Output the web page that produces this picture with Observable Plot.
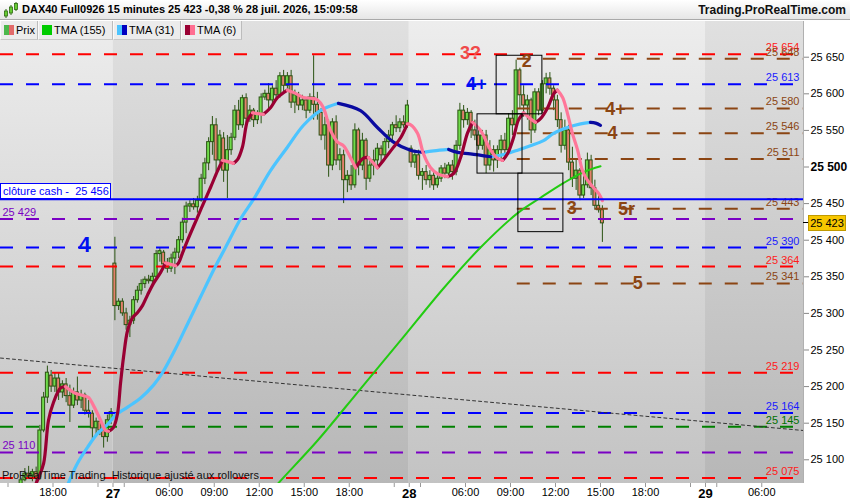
<!DOCTYPE html>
<html><head><meta charset="utf-8">
<script src="https://cdn.jsdelivr.net/npm/d3@7"></script>
<script src="https://cdn.jsdelivr.net/npm/@observablehq/plot@0.6"></script>
<style>
body{margin:0;width:850px;height:500px;overflow:hidden;background:#fff;font-family:"Liberation Sans",Arial,sans-serif;}
#header{position:absolute;left:0;top:0;width:850px;height:20px;box-sizing:border-box;border-bottom:1px solid #a9a9a9;background:linear-gradient(#ffffff,#e6e6e6);}
#title{position:absolute;left:22px;top:3px;font-size:11px;font-weight:bold;color:#000;white-space:nowrap;}
#site{position:absolute;right:4px;top:3px;font-size:12px;font-weight:bold;color:#111;white-space:nowrap;}
#chart{position:absolute;left:0;top:20px;width:850px;height:480px;}
#chart svg{position:absolute;left:0;top:0;}
.tab{position:absolute;top:1px;height:19px;box-sizing:border-box;background:#ececec;border-right:1px solid #bcbcbc;border-bottom:1px solid #c8c8c8;border-left:1px solid #fafafa;font-size:11px;line-height:18px;color:#000;white-space:nowrap;padding-left:15px;}
.sw{position:absolute;left:3px;top:4px;width:10px;height:10px;}
.ov{position:absolute;white-space:nowrap;}
</style></head>
<body>
<div id="header">
  <svg width="16" height="18" style="position:absolute;left:3px;top:1px">
    <line x1="3" y1="8" x2="3" y2="17" stroke="#2d6a10"/><rect x="1.5" y="10" width="3" height="5" fill="#66cc33" stroke="#2d6a10" stroke-width="0.8"/>
    <line x1="8" y1="4" x2="8" y2="14" stroke="#2d6a10"/><rect x="6.5" y="6" width="3" height="6" fill="#66cc33" stroke="#2d6a10" stroke-width="0.8"/>
    <line x1="13" y1="1" x2="13" y2="10" stroke="#2d6a10"/><rect x="11.5" y="2.5" width="3" height="6" fill="#66cc33" stroke="#2d6a10" stroke-width="0.8"/>
  </svg>
  <div id="title">DAX40 Full0926 15 minutes 25 423 -0,38 % 28 juil. 2026, 15:09:58</div>
  <div id="site">Trading.ProRealTime.com</div>
</div>
<div id="chart"></div>
<script>
// ---------- data ----------
const openP = [25045,25049,25044,25050,25055,25062,25072,25081,25077,25083,
25076,25140,25185,25215,25200,25211,25192,25203,25187,25174,
25192,25181,25188,25167,25163,25143,25152,25140,25131,25154,
25368,25310,25316,25300,25284,25290,25318,25331,25340,25346,
25344,25350,25381,25383,25367,25361,25375,25383,25400,25424,
25446,25449,25445,25454,25484,25505,25534,25557,25509,25539,
25495,25523,25540,25577,25557,25594,25566,25577,25564,25572,
25595,25600,25591,25607,25598,25624,25611,25624,25588,25598,
25584,25591,25577,25595,25585,25574,25543,25557,25502,25561,
25509,25516,25482,25488,25475,25550,25502,25536,25484,25502,
25509,25525,25516,25534,25543,25557,25553,25561,25557,25525,
25506,25516,25488,25493,25482,25488,25475,25484,25498,25491,
25502,25493,25529,25577,25564,25574,25550,25543,25529,25543,
25502,25523,25509,25523,25536,25523,25566,25557,25632,25598,
25584,25591,25550,25602,25577,25613,25621,25607,25591,25564,
25529,25550,25506,25484,25495,25461,25475,25509,25471,25447,
25441];
const highP = [25052,25055,25053,25058,25066,25075,25088,25091,25087,25090,
25147,25192,25228,25222,25218,25219,25208,25211,25202,25198,
25213,25195,25191,25181,25167,25157,25157,25147,25161,25170,
25404,25320,25320,25307,25296,25323,25337,25346,25350,25352,
25355,25386,25389,25386,25375,25381,25389,25405,25430,25452,
25454,25457,25460,25490,25512,25540,25569,25566,25550,25547,
25543,25546,25584,25591,25598,25600,25584,25580,25577,25600,
25605,25614,25611,25618,25629,25632,25629,25632,25605,25602,
25598,25594,25600,25652,25602,25580,25568,25564,25566,25570,
25525,25523,25495,25502,25559,25553,25546,25539,25509,25523,
25532,25529,25539,25550,25561,25570,25566,25570,25591,25529,
25523,25523,25498,25502,25495,25493,25488,25502,25505,25506,
25509,25536,25587,25584,25580,25577,25564,25553,25550,25550,
25536,25529,25529,25543,25546,25573,25577,25646,25635,25611,
25598,25594,25607,25607,25618,25628,25629,25611,25598,25574,
25564,25557,25527,25509,25498,25488,25519,25516,25482,25461,
25447];
const lowP = [25038,25042,25040,25045,25050,25058,25070,25075,25070,25069,
25072,25137,25177,25192,25192,25181,25184,25178,25151,25170,
25174,25170,25161,25157,25126,25131,25133,25116,25124,25148,
25290,25304,25296,25277,25267,25285,25314,25325,25334,25340,
25338,25348,25370,25361,25355,25356,25353,25375,25396,25409,
25438,25441,25437,25452,25476,25495,25516,25493,25505,25479,
25457,25516,25536,25550,25553,25554,25561,25554,25558,25559,
25591,25577,25585,25591,25594,25602,25607,25580,25573,25577,
25577,25566,25573,25564,25564,25536,25523,25486,25495,25502,
25495,25450,25465,25468,25471,25488,25495,25468,25479,25488,
25502,25506,25512,25525,25536,25547,25547,25553,25553,25499,
25498,25482,25468,25475,25471,25468,25471,25479,25484,25484,
25482,25488,25523,25553,25557,25539,25536,25523,25523,25491,
25495,25493,25498,25509,25512,25520,25543,25553,25580,25568,
25564,25532,25546,25570,25573,25600,25598,25577,25554,25519,
25523,25495,25472,25468,25454,25457,25471,25461,25441,25437,
25397];
const closeP = [25049,25044,25050,25055,25062,25072,25081,25077,25083,25076,
25140,25185,25219,25200,25211,25192,25203,25187,25174,25192,
25181,25188,25167,25163,25143,25152,25140,25131,25154,25165,
25310,25316,25300,25284,25290,25318,25331,25340,25346,25344,
25350,25381,25385,25367,25361,25375,25383,25400,25424,25446,
25449,25445,25454,25484,25505,25534,25557,25509,25543,25495,
25523,25540,25577,25557,25594,25566,25577,25564,25572,25595,
25600,25591,25607,25598,25624,25611,25624,25588,25598,25584,
25591,25577,25595,25585,25574,25543,25557,25502,25561,25509,
25516,25482,25488,25475,25550,25502,25536,25484,25502,25509,
25525,25516,25534,25543,25557,25553,25561,25557,25584,25506,
25516,25488,25493,25482,25488,25475,25484,25498,25491,25502,
25493,25529,25577,25564,25574,25550,25543,25529,25543,25502,
25523,25509,25523,25536,25523,25566,25557,25632,25598,25584,
25591,25550,25602,25577,25613,25621,25607,25591,25564,25529,
25550,25506,25484,25495,25461,25475,25509,25471,25447,25441,
25423];

// moving averages (bar position, price)
const tma6Bar = [7.5,9.6,11.0,12.3,13.6,15.5,16.8,19.0,21.4,23.0,24.3,26.2,27.5,28.3,29.6,30.7,31.5,32.3,33.4,34.7,36.0,37.4,38.7,40.3,42.2,43.5,44.8,46.2,47.0,48.0,49.4,52.0,53.6,55.5,57.4,58.7,60.3,61.6,62.7,64.0,65.4,66.7,68.0,69.6,71.5,73.4,76.0,77.6,80.3,82.2,83.9,85.6,87.5,89.4,91.0,92.8,94.2,96.3,97.6,99.0,100.0,101.6,104.3,106.2,108.0,108.8,110.7,112.3,114.2,116.0,117.6,118.7,120.3,122.2,124.0,125.4,127.5,130.2,132.0,133.4,134.7,136.3,137.6,139.0,140.8,142.2,143.5,145.4,147.0,148.0,149.4,150.7,152.0,153.4,154.7,156.0,157.6,159.0,160.0];
const tma6Val = [25051,25075,25095,25154,25178,25198,25200,25192,25188,25185,25174,25154,25140,25139,25144,25163,25204,25240,25277,25294,25301,25311,25325,25341,25356,25369,25367,25365,25369,25382,25400,25431,25450,25472,25495,25509,25507,25505,25510,25527,25564,25574,25573,25572,25581,25595,25605,25602,25595,25594,25592,25581,25550,25534,25529,25513,25499,25512,25513,25505,25499,25509,25527,25540,25559,25558,25546,25518,25499,25491,25488,25487,25491,25513,25546,25561,25550,25523,25512,25509,25518,25540,25564,25574,25566,25561,25566,25581,25600,25605,25595,25573,25546,25523,25495,25482,25472,25464,25454];
const tma31Bar = [16.0,17.6,20.0,22.7,25.4,28.0,30.2,33.4,36.8,40.3,42.7,46.2,49.6,52.8,56.8,59.5,63.5,67.0,71.5,76.0,80.3,84.8,89.6,95.5,100.0,104.3,108.8,112.3,115.0,119.0,121.4,124.8,130.2,132.8,137.4,140.8,144.3,147.0,150.7,154.2,156.8,158.2,159.5];
const tma31Val = [25045,25068,25095,25117,25136,25148,25161,25172,25184,25202,25219,25252,25288,25322,25364,25390,25429,25456,25495,25527,25557,25577,25587,25577,25554,25534,25523,25520,25522,25524,25520,25518,25514,25516,25523,25529,25536,25546,25554,25559,25561,25560,25557];
const tma155Bar = [71.5,73.6,84.0,95.5,106.2,117.6,127.5,137.4,143.5,149.6,155.0,159.5];
const tma155Val = [25055,25068,25126,25197,25263,25334,25390,25437,25458,25478,25493,25501];

// trend line (dotted)
const trendBar = [-0.5, 213.6];
const trendVal = [25239, 25140];

// horizontal levels
const redLevels = [25654, 25364, 25219, 25075];
const blueLevels = [25613, 25390, 25164];
const brownLevels = [25648, 25580, 25546, 25511, 25443, 25341];
const purpleLevels = [25429, 25110];
const greenLevels = [25145];
const cashClose = 25456;
const brownFromBar = 137.3;
const lastPrice = 25423;

// boxes
const boxFrom = [131.8, 126.7, 137.6];
const boxTo = [144.0, 138.7, 149.6];
const boxHigh = [25652, 25572, 25491];
const boxLow = [25572, 25491, 25411];

// annotations
const noteText = ["3?", "2", "4+", "4+", "4", "3", "5r", "4", "5"];
const noteBar = [124.8, 139.8, 126.4, 163.5, 162.7, 151.8, 166.4, 21.9, 169.4];
const notePrice = [25655, 25644, 25613, 25579, 25546, 25443, 25442, 25393, 25341];
const noteKind = ["red", "brown", "blue", "brown", "brown", "brown", "brown", "blue", "brown"];

// sessions
const dayFrom = [-0.5, 29.5, 108.5, 187.5];
const dayTo = [29.5, 108.5, 187.5, 213.63];
const dayShade = ["light", "dark", "light", "dark"];

// axis ticks
const xTickBars = [13.5, 29.5, 44.5, 56.5, 68.5, 80.5, 92.5, 108.5, 123.5, 135.5, 147.5, 159.5, 171.5, 187.5, 202.5];
const xTickLabels = ["18:00", "27", "06:00", "09:00", "12:00", "15:00", "18:00", "28", "06:00", "09:00", "12:00", "15:00", "18:00", "29", "06:00"];
const xMinorBars = [1.5, 25.5, 32.5, 104.5, 111.5, 183.5, 190.5];
const yTicks = [25100, 25150, 25200, 25250, 25300, 25350, 25400, 25450, 25500, 25550, 25600, 25650];

// ---------- build ----------
const fr = d3.formatLocale({decimal: ",", thousands: " ", grouping: [3], currency: ["", " €"]}).format(",d");
const COL = {red: "#ff0000", blue: "#0000ff", brown: "#8b4513", purple: "#7a00c4", green: "#008000"};
const LBL = {red: "#ff1a1a", blue: "#1a1aff", brown: "#8b4513", green: "#007000"};
const NOTE = {red: "#f04a4a", blue: "#0010f0", brown: "#8b4513"};
const wick = "#2a5212";

const candles = closeP.map((c, i) => ({i, o: openP[i], h: highP[i], l: lowP[i], c}));
const upC = candles.filter(d => d.c >= d.o), dnC = candles.filter(d => d.c < d.o);

function runs(bars, vals) {
  const out = []; let run = 0, dir = null;
  for (let i = 1; i < bars.length; i++) {
    const d = vals[i] >= vals[i - 1] ? "up" : "down";
    if (d !== dir) { run++; dir = d; out.push({run, dir, x: bars[i - 1], y: vals[i - 1]}); }
    out.push({run, dir, x: bars[i], y: vals[i]});
  }
  return out;
}
const r6 = runs(tma6Bar, tma6Val), r31 = runs(tma31Bar, tma31Val);
const pts = (b, v) => b.map((x, i) => ({x, y: v[i]}));

const xMax = 213.63;
const days = dayFrom.map((f, i) => ({f, t: dayTo[i], s: dayShade[i]}));
const boxes = boxFrom.map((f, i) => ({f, t: boxTo[i], hi: boxHigh[i], lo: boxLow[i]}));
const notes = noteText.map((t, i) => ({t, x: noteBar[i], y: notePrice[i], k: noteKind[i]}));
const tickLabel = new Map(xTickBars.map((b, i) => [b, xTickLabels[i]]));

const defsMark = () => {
  const g = d3.create("svg:defs");
  const mk = (id, top, bottom) => {
    const lg = g.append("linearGradient").attr("id", id).attr("x1", 0).attr("y1", 0).attr("x2", 0).attr("y2", 1);
    lg.append("stop").attr("offset", "0%").attr("stop-color", top);
    lg.append("stop").attr("offset", "100%").attr("stop-color", bottom);
  };
  mk("bgLight", "#ededed", "#c3c3c3");
  mk("bgDark", "#e0e0e0", "#b7b7b7");
  return g.node();
};

function levelMarks(vals, kind, from, side) {
  const m = [Plot.ruleY(vals, {y: d => d, x1: from === undefined ? undefined : from, x2: from === undefined ? undefined : xMax,
    stroke: COL[kind], strokeWidth: 2, strokeDasharray: "13,13"})];
  if (side === "right") m.push(Plot.text(vals, {y: d => d, text: d => fr(d), frameAnchor: "right", textAnchor: "end",
    lineAnchor: "bottom", dx: -4, dy: -3, fill: LBL[kind], fontSize: 11}));
  if (side === "left") m.push(Plot.text(vals, {y: d => d, text: d => fr(d), frameAnchor: "left", textAnchor: "start",
    lineAnchor: "bottom", dx: 2, dy: -3, fill: COL[kind], fontSize: 11}));
  return m;
}

const svg = Plot.plot({
  width: 850, height: 480,
  marginTop: 1, marginBottom: 17, marginLeft: 0, marginRight: 47,
  x: {domain: [-0.5, xMax]},
  y: {domain: [25067.6, 25698.8]},
  style: {fontFamily: "'Liberation Sans', Arial, sans-serif", fontSize: "11px", color: "#000", background: "transparent", overflow: "visible"},
  marks: [
    defsMark,
    Plot.rect(days.filter(d => d.s === "light"), {x1: "f", x2: "t", fill: "url(#bgLight)"}),
    Plot.rect(days.filter(d => d.s === "dark"), {x1: "f", x2: "t", fill: "url(#bgDark)"}),
    Plot.ruleX(candles, {x: "i", y1: "l", y2: "h", stroke: wick, strokeWidth: 1, clip: true}),
    Plot.rect(upC, {x1: d => d.i - 0.4, x2: d => d.i + 0.4, y1: "o", y2: "c", fill: "#6fdc4a", stroke: wick, strokeWidth: 1, clip: true}),
    Plot.rect(dnC, {x1: d => d.i - 0.4, x2: d => d.i + 0.4, y1: "o", y2: "c", fill: "#e4806c", stroke: wick, strokeWidth: 1, clip: true}),
    ...levelMarks(redLevels, "red", undefined, "right"),
    ...levelMarks(blueLevels, "blue", undefined, "right"),
    ...levelMarks(greenLevels, "green", undefined, "right"),
    ...levelMarks(purpleLevels, "purple", undefined, "left"),
    ...levelMarks(brownLevels, "brown", brownFromBar, "right"),
    Plot.line(pts(trendBar, trendVal), {x: "x", y: "y", stroke: "#333", strokeWidth: 1, strokeDasharray: "3,3", clip: true}),
    Plot.line(pts(tma155Bar, tma155Val), {x: "x", y: "y", stroke: "#22cc11", strokeWidth: 2, curve: "catmull-rom", clip: true}),
    Plot.line(r31.filter(d => d.dir === "up"), {x: "x", y: "y", z: "run", stroke: "#4cc4ff", strokeWidth: 3.2, curve: "catmull-rom", strokeLinecap: "round", clip: true}),
    Plot.line(r31.filter(d => d.dir === "down"), {x: "x", y: "y", z: "run", stroke: "#0a0aa0", strokeWidth: 3.2, curve: "catmull-rom", strokeLinecap: "round", clip: true}),
    Plot.line(r6.filter(d => d.dir === "up"), {x: "x", y: "y", z: "run", stroke: "#990033", strokeWidth: 3.2, curve: "catmull-rom", strokeLinecap: "round", clip: true}),
    Plot.line(r6.filter(d => d.dir === "down"), {x: "x", y: "y", z: "run", stroke: "#ff7799", strokeWidth: 3.2, curve: "catmull-rom", strokeLinecap: "round", clip: true}),
    Plot.ruleY([cashClose], {y: d => d, stroke: "#0000ff", strokeWidth: 2}),
    Plot.rect(boxes, {x1: "f", x2: "t", y1: "lo", y2: "hi", fill: "none", stroke: "#000", strokeWidth: 1}),
    ...["red", "blue", "brown"].map(k => Plot.text(notes.filter(n => n.k === k), {x: "x", y: "y", text: "t", fill: NOTE[k],
      fontWeight: "bold", fontSize: d => d.x < 50 ? 22 : 18, textAnchor: "middle", lineAnchor: "middle"})),
    Plot.axisY({anchor: "right", ticks: yTicks, tickFormat: fr, tickSize: 5, tickPadding: 2, fontSize: 11, stroke: "#888", label: null}),
    Plot.axisX({anchor: "bottom", ticks: xTickBars, tickFormat: d => tickLabel.get(d), tickSize: 4, tickPadding: 1, fontSize: 11, stroke: "#999", label: null}),
    Plot.axisX({anchor: "bottom", ticks: xMinorBars, tickFormat: () => "", tickSize: 4, stroke: "#999", label: null})
  ]
});

const chart = document.getElementById("chart");
chart.appendChild(svg);

d3.select(svg).selectAll("text").each(function () {
  const t = this.textContent;
  if (t === "27" || t === "28" || t === "29") d3.select(this).attr("font-weight", "bold").attr("font-size", 13);
  if (t === "25 500" && this.closest("[aria-label='y-axis tick label']")) d3.select(this).attr("font-weight", "bold").attr("font-size", 12);
});

const ys = svg.scale("y");
const add = (html, style) => { const d = document.createElement("div"); d.className = "ov"; d.innerHTML = html; Object.assign(d.style, style); chart.appendChild(d); return d; };

// right border of the price pane
add("", {left: "803px", top: "1px", width: "1px", height: "462px", background: "#b0b0b0"});

// legend tabs
const tabs = [
  ["Prix", 0, 38, "linear-gradient(90deg,#4cb84c 50%,#e26a6a 50%)"],
  ["TMA (155)", 38, 75, "#00cc00"],
  ["TMA (31)", 113, 68, "linear-gradient(90deg,#4cc4ff 50%,#0000c0 50%)"],
  ["TMA (6)", 181, 61, "linear-gradient(90deg,#990033 50%,#ff6f91 50%)"]
];
for (const [t, l, w, bg] of tabs) {
  const d = document.createElement("div"); d.className = "tab";
  d.style.left = l + "px"; d.style.width = w + "px";
  d.innerHTML = `<span class="sw" style="background:${bg}"></span>${t}`;
  chart.appendChild(d);
}

// cash close box
const yc = ys.apply(cashClose);
add("cl\u00f4ture cash - &nbsp;" + fr(cashClose), {left: "0px", top: (yc - 16) + "px", width: "111px", height: "16px", boxSizing: "border-box",
  border: "1px solid #0000ff", background: "#fff", color: "#0000ff", fontSize: "11px", lineHeight: "14px", paddingLeft: "2px"});

// last price marker
const yl = ys.apply(lastPrice);
add("", {left: "803px", top: (yl - 0.5) + "px", width: "5px", height: "1px", background: "#000"});
add(fr(lastPrice), {left: "808px", top: (yl - 8) + "px", width: "38px", height: "16px", boxSizing: "border-box", background: "#f7c600",
  border: "1px solid #c09a00", color: "#000", fontSize: "11px", lineHeight: "14px", textAlign: "center"});

// footer note
add("ProRealTime Trading &nbsp;Historique ajust\u00e9 aux rollovers", {left: "2px", top: "449px", fontSize: "11px", color: "#111"});
</script>
</body></html>
